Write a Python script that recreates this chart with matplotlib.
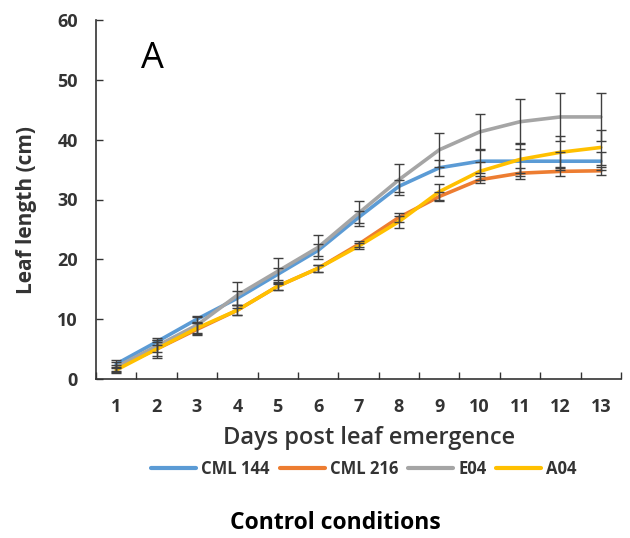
import matplotlib
matplotlib.use("Agg")
import matplotlib.pyplot as plt
import numpy as np

days = [1, 2, 3, 4, 5, 6, 7, 8, 9, 10, 11, 12, 13]
series_names = ["CML 144", "CML 216", "E04", "A04"]
cml144 = [2.5, 6.2, 10.0, 13.5, 17.5, 21.5, 27.0, 32.2, 35.3, 36.4, 36.4, 36.4, 36.4]
cml144_err = [0.6, 0.6, 0.6, 1.2, 1.0, 1.0, 1.0, 1.0, 1.3, 2.0, 2.0, 1.5, 1.5]
cml216 = [1.8, 5.0, 8.3, 11.5, 15.5, 18.5, 22.5, 27.0, 30.5, 33.3, 34.4, 34.7, 34.8]
cml216_err = [0.5, 1.5, 1.0, 0.8, 0.7, 0.6, 0.5, 0.8, 0.8, 0.6, 0.9, 0.7, 0.7]
e04 = [2.0, 5.5, 9.0, 14.0, 18.0, 22.0, 27.7, 33.3, 38.3, 41.3, 43.0, 43.8, 43.8]
e04_err = [0.8, 1.0, 1.3, 2.2, 2.2, 2.0, 2.1, 2.6, 2.8, 3.0, 3.8, 4.0, 4.0]
a04 = [1.5, 5.0, 8.5, 11.5, 15.5, 18.5, 22.2, 26.3, 31.3, 34.7, 36.7, 37.9, 38.7]
a04_err = [0.5, 1.2, 1.0, 0.8, 0.6, 0.6, 0.5, 1.0, 1.3, 1.5, 2.8, 2.7, 2.9]
colors = ["#5B9BD5", "#ED7D31", "#A5A5A5", "#FFC000"]

font = "Open Sans"
fig = plt.figure(figsize=(6.3, 5.38), dpi=100)
ax = fig.add_axes([96/630, 1-379/538, (621-96)/630, (379-20)/538])

vals = [cml144, cml216, e04, a04]
errs = [cml144_err, cml216_err, e04_err, a04_err]
x = np.array(days)
for v, e in zip(vals, errs):
    ax.errorbar(x, v, yerr=e, fmt="none", ecolor="#404040", elinewidth=1.0,
                capsize=3.5, capthick=1.0, zorder=3)
for name, v, c in zip(series_names, vals, colors):
    ax.plot(x, v, color=c, lw=2.6, label=name, zorder=2, solid_capstyle="round")

ax.set_xlim(0.5, 13.5)
ax.set_ylim(0, 60)
ax.set_yticks([0, 10, 20, 30, 40, 50, 60])
ax.set_xticks(days)
ax.set_xticks(np.arange(0.5, 14, 1.0), minor=True)
ax.tick_params(axis="x", which="major", length=0, pad=14)
ax.tick_params(axis="x", which="minor", direction="in", length=5, width=1, color="#333333")
ax.tick_params(axis="y", direction="in", length=5, width=1, color="#333333", pad=13)
for lab in ax.get_xticklabels() + ax.get_yticklabels():
    lab.set_fontfamily(font)
    lab.set_fontweight("bold")
    lab.set_fontsize(13)
    lab.set_color("#333333")
for s in ["top", "right"]:
    ax.spines[s].set_visible(False)
for s in ["left", "bottom"]:
    ax.spines[s].set_color("#333333")
    ax.spines[s].set_linewidth(1.2)

fig.text(27/630, 1-210/538, "Leaf length (cm)", fontfamily=font, fontweight="bold",
         fontsize=15, color="#333333", rotation=90, ha="center", va="center")
fig.text(369/630, 1-438/538, "Days post leaf emergence", fontfamily=font, fontsize=17,
         fontweight="semibold", color="#333333", ha="center", va="center")
fig.text(152/630, 1-59/538, "A", fontfamily=font, fontsize=26, color="black",
         ha="center", va="center")

leg = fig.legend(loc="center", bbox_to_anchor=(364/630, 1-469/538), ncol=4, frameon=False,
                 prop={"family": font, "weight": "bold", "size": 12},
                 handlelength=2.7, handletextpad=0.3, columnspacing=0.6)
for t in leg.get_texts():
    t.set_color("#333333")
for h in leg.get_lines():
    h.set_linewidth(3)

fig.text(335/630, 1-523/538, "Control conditions", fontfamily=font, fontsize=16.5,
         fontweight="bold", color="black", ha="center", va="center")

fig.savefig("out.png", dpi=100)
